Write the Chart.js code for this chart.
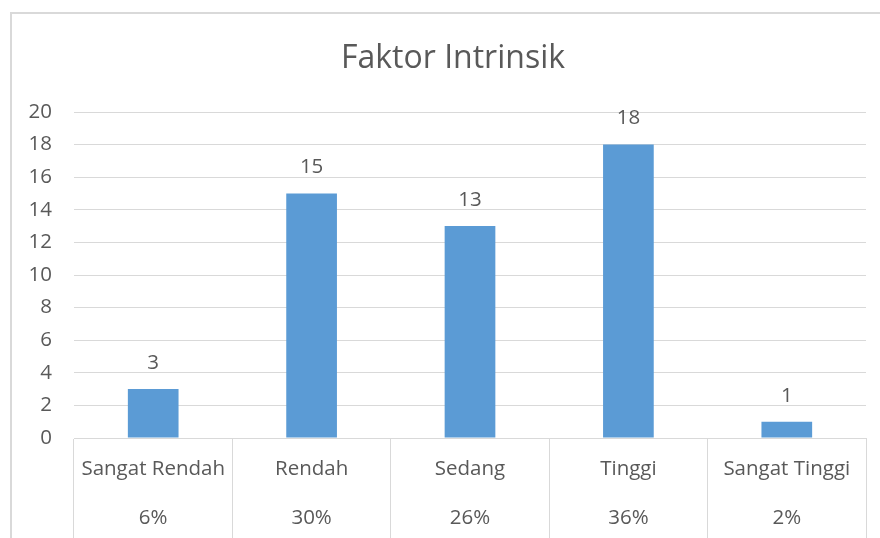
<!DOCTYPE html>
<html>
<head>
<meta charset="utf-8">
<script src="https://cdn.jsdelivr.net/npm/chart.js@4/dist/chart.umd.min.js"></script>
<style>
  html, body { margin: 0; padding: 0; background: #fff; }
  canvas { display: block; }
</style>
</head>
<body>
<canvas id="chart" width="880" height="538"></canvas>
<script>
const categories = ['Sangat Rendah', 'Rendah', 'Sedang', 'Tinggi', 'Sangat Tinggi'];
const values = [3, 15, 13, 18, 1];
const percents = ['6%', '30%', '26%', '36%', '2%'];
const chartTitle = 'Faktor Intrinsik';

const textColor = '#595959';
const lineColor = '#d9d9d9';
const fontFamily = '"Open Sans", Lato, sans-serif';

// frame, title, value labels and the two-row category table under the axis
const extras = {
  id: 'extras',
  beforeDraw(chart) {
    const ctx = chart.ctx;
    ctx.save();
    ctx.strokeStyle = lineColor;
    ctx.lineWidth = 2;
    ctx.strokeRect(11, 13, 900, 600);
    ctx.fillStyle = textColor;
    ctx.font = '32px ' + fontFamily;
    ctx.textAlign = 'center';
    ctx.textBaseline = 'middle';
    ctx.fillText(chartTitle, 453, 59);
    ctx.restore();
  },
  afterDraw(chart) {
    const ctx = chart.ctx;
    const x = chart.scales.x;
    const bars = chart.getDatasetMeta(0).data;
    ctx.save();
    ctx.fillStyle = textColor;
    ctx.font = '20.5px ' + fontFamily;
    ctx.textAlign = 'center';
    ctx.textBaseline = 'middle';
    bars.forEach((bar, i) => {
      ctx.fillText(String(values[i]), bar.x, bar.y - 26);
    });
    categories.forEach((cat, i) => {
      const cx = x.getPixelForValue(i);
      ctx.fillText(cat, cx, x.top + 31);
      ctx.fillText(percents[i], cx, x.top + 80);
    });
    ctx.restore();
  }
};

new Chart(document.getElementById('chart'), {
  type: 'bar',
  data: {
    labels: categories,
    datasets: [{
      data: values,
      backgroundColor: '#5b9bd5',
      barPercentage: 0.32,
      categoryPercentage: 1
    }]
  },
  options: {
    responsive: false,
    animation: false,
    layout: { padding: { left: 0, right: 14, top: 112 } },
    plugins: {
      legend: { display: false },
      tooltip: { enabled: false },
      title: { display: false }
    },
    scales: {
      x: {
        grid: {
          offset: true,
          drawOnChartArea: false,
          drawTicks: true,
          tickLength: 100,
          tickColor: lineColor
        },
        border: { color: lineColor },
        ticks: { display: false }
      },
      y: {
        min: 0,
        max: 20,
        ticks: {
          stepSize: 2,
          color: textColor,
          padding: 22,
          font: { family: fontFamily, size: 20.5 }
        },
        grid: { color: lineColor, drawTicks: false },
        border: { display: false },
        afterFit(scale) { scale.width = 74; }
      }
    }
  },
  plugins: [extras]
});
</script>
</body>
</html>
